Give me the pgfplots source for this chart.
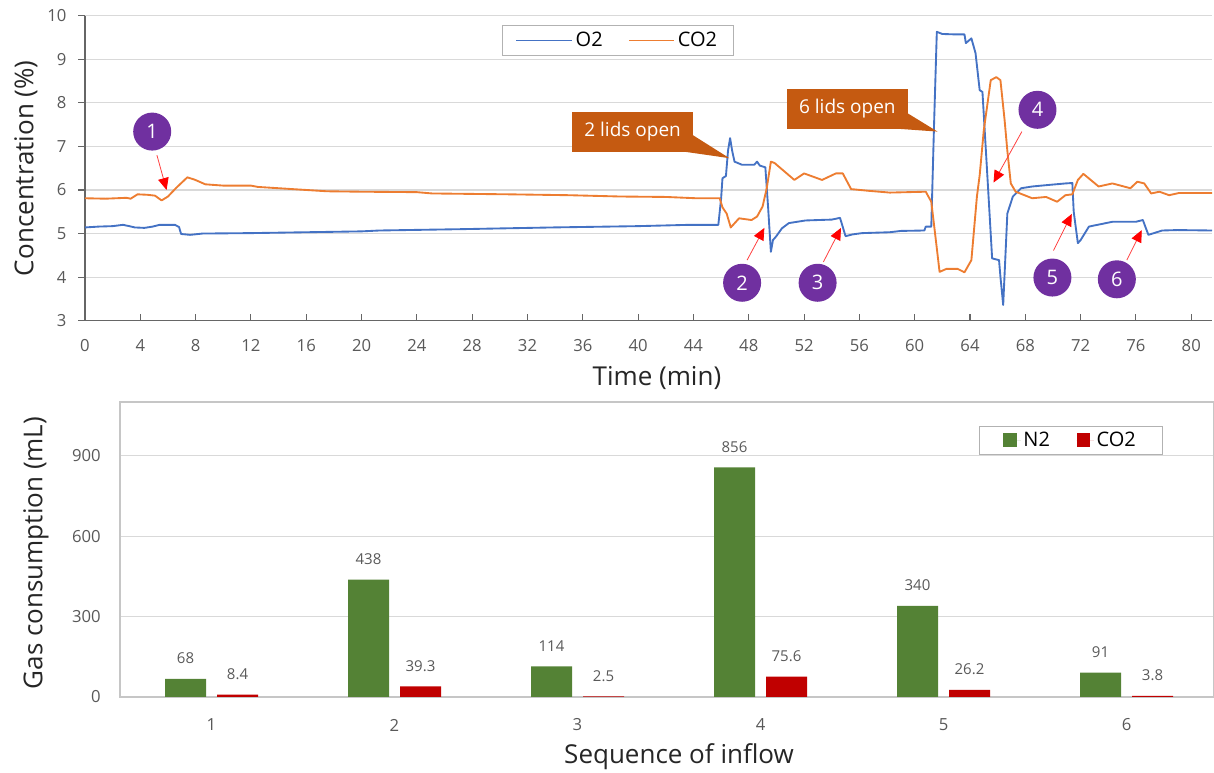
\documentclass[border=0pt]{standalone}
\usepackage{fontspec}
\setmainfont{Open Sans}
\usepackage{pgfplots}
\pgfplotsset{compat=1.18}
\usetikzlibrary{arrows.meta}
\definecolor{oxy}{HTML}{4472C4}
\definecolor{cdo}{HTML}{ED7D31}
\definecolor{ngreen}{HTML}{548235}
\definecolor{cred}{HTML}{C00000}
\definecolor{callout}{HTML}{C55A11}
\definecolor{purp}{HTML}{7030A0}
\definecolor{tickc}{HTML}{595959}
\definecolor{gridc}{HTML}{D9D9D9}
\begin{document}
\begin{tikzpicture}[
  circ/.style={circle, fill=purp, text=white, minimum size=28.5pt, inner sep=0pt, font=\fontsize{15}{18}\selectfont},
  rarrow/.style={draw=red!75, line width=0.6pt, -{Triangle[length=9pt,width=8pt,fill=red,color=red]}},
  ctext/.style={text=white, font=\fontsize{14.25}{17}\selectfont}
]
\useasboundingbox (0,0) rectangle (910.5pt,579.75pt);
% ---------------- top chart ----------------
\begin{axis}[
  at={(63.75pt,339.225pt)}, anchor=south west,
  scale only axis, width=845.25pt, height=228.75pt,
  xmin=0, xmax=81.5, ymin=3, ymax=10,
  xtick={0,4,...,80}, ytick={3,...,10},
  axis x line*=bottom, axis y line*=left,
  axis line style={draw=black!60, line width=0.9pt},
  ymajorgrids, grid style={draw=gridc, line width=0.8pt},
  tick align=inside, major tick length=5.25pt,
  tick style={draw=black!60, line width=0.8pt},
  ytick style={xshift=-5.25pt},
  /pgf/number format/assume math mode=true,
  tick label style={font=\fontsize{12.5}{14}\selectfont, text=tickc, inner sep=0pt},
  xticklabel style={anchor=center, yshift=-18.75pt},
  yticklabel style={anchor=east, xshift=-13.7pt},
  xlabel={Time (min)}, ylabel={Concentration (\%)},
  label style={font=\fontsize{19.5}{23}\selectfont, text=black!85},
  xlabel style={at={(axis description cs:0.5075,-0.1895)}, anchor=center},
  ylabel style={at={(axis description cs:-0.0524,0.5)}, anchor=center},
  legend style={at={(0.4725,0.9187)}, anchor=center, draw=gray!60, fill=white,
    font=\fontsize{15}{18}\selectfont, legend columns=2,
    inner xsep=10pt, inner ysep=3pt},
  legend cell align=left,
  clip=false,
]
\addplot[oxy, line width=1.4pt, line join=round,
  legend image code/.code={\draw[oxy,line width=1.3pt] (0pt,0pt) -- (40pt,0pt); \path (0pt,0pt) -- (42pt,0pt);}]
coordinates {
(0,5.14) (1,5.16) (2,5.17) (2.75,5.20) (3.2,5.17) (3.6,5.14) (4.3,5.13) (4.9,5.16) (5.4,5.20) (6.5,5.20) (6.8,5.15) (6.95,4.99) (7.6,4.97) (8.5,5.00) (12,5.01) (16,5.03) (20,5.05) (21.3,5.07) (27.1,5.10) (33.8,5.14) (40,5.17) (43.7,5.20) (45.8,5.20) (46.0,5.80) (46.1,6.27) (46.35,6.32) (46.5,6.9) (46.65,7.19) (46.8,6.9) (46.97,6.65) (47.5,6.58) (48.4,6.58) (48.6,6.65) (48.8,6.56) (49.2,6.52) (49.4,5.6) (49.6,4.58) (49.75,4.85) (49.97,4.93) (50.4,5.12) (50.9,5.24) (52.1,5.30) (53,5.31) (54,5.32) (54.6,5.36) (55.0,4.94) (55.5,4.98) (56.2,5.01) (58.2,5.03) (59,5.06) (60.7,5.07) (60.8,5.16) (61.2,5.16) (61.4,7.5) (61.6,9.63) (62,9.58) (63,9.57) (63.6,9.57) (63.7,9.37) (64.1,9.48) (64.4,9.14) (64.7,8.29) (64.9,8.25) (65.3,6.08) (65.6,4.43) (66.1,4.39) (66.2,4.01) (66.4,3.36) (66.7,5.46) (67.1,5.85) (67.7,6.04) (68.5,6.08) (69.5,6.11) (70.9,6.15) (71.4,6.16) (71.5,5.5) (71.8,4.78) (72.0,4.85) (72.6,5.16) (74.3,5.27) (76.0,5.27) (76.5,5.31) (76.9,4.97) (77.9,5.07) (79,5.08) (81.5,5.07)
};
\addlegendentry{O2\rule{17pt}{0pt}}
\addplot[cdo, line width=1.4pt, line join=round,
  legend image code/.code={\draw[cdo,line width=1.3pt] (0pt,0pt) -- (32pt,0pt); \path (0pt,0pt) -- (34pt,0pt);}]
coordinates {
(0,5.81) (1.5,5.80) (3.0,5.82) (3.3,5.80) (3.8,5.90) (4.5,5.89) (5.06,5.87) (5.54,5.76) (6.0,5.85) (6.6,6.05) (7.4,6.29) (7.9,6.24) (8.2,6.20) (8.7,6.13) (10,6.10) (12,6.10) (12.5,6.07) (16,6.00) (17.5,5.97) (20,5.96) (24,5.95) (25.1,5.92) (30.7,5.90) (35,5.88) (38.7,5.85) (42,5.84) (44.2,5.81) (45.9,5.81) (46.1,5.6) (46.4,5.46) (46.7,5.14) (47.3,5.35) (48.2,5.31) (48.6,5.39) (49.0,5.62) (49.3,6.04) (49.6,6.65) (49.86,6.62) (50.6,6.42) (51.3,6.23) (52.0,6.38) (53.3,6.23) (54.3,6.38) (54.8,6.38) (55.4,6.02) (56.7,5.98) (58.2,5.94) (60.8,5.96) (61.2,5.73) (61.5,4.93) (61.8,4.12) (62.3,4.19) (63.1,4.19) (63.6,4.11) (64.1,4.39) (64.5,5.85) (64.7,6.34) (65.0,7.38) (65.5,8.52) (65.9,8.59) (66.2,8.52) (66.5,7.61) (66.7,6.9) (66.95,6.15) (67.3,5.96) (68.5,5.81) (69.5,5.84) (70.3,5.73) (70.9,5.88) (71.4,5.90) (71.8,6.23) (72.2,6.37) (73.3,6.08) (74.3,6.15) (75.6,6.04) (76.1,6.19) (76.6,6.15) (77.1,5.92) (77.7,5.96) (78.4,5.88) (79.1,5.93) (81.5,5.93)
};
\addlegendentry{CO2}
% callouts
\fill[callout] (axis cs:35.24,6.88) rectangle (axis cs:43.95,7.80);
\fill[callout] (axis cs:43.95,7.26) -- (axis cs:46.6,6.73) -- (axis cs:43.3,6.88) -- cycle;
\node[ctext] at (axis cs:39.6,7.34) {2 lids open};
\fill[callout] (axis cs:50.77,7.40) rectangle (axis cs:59.49,8.32);
\fill[callout] (axis cs:59.49,7.76) -- (axis cs:61.65,7.34) -- (axis cs:59.0,7.40) -- cycle;
\node[ctext] at (axis cs:55.13,7.86) {6 lids open};
% numbered markers
\draw[rarrow] (axis cs:5.2,6.80) -- (axis cs:5.9,6.0);
\node[circ] at (axis cs:4.86,7.34) {1};
\draw[rarrow] (axis cs:47.88,4.39) -- (axis cs:49.13,5.13);
\node[circ] at (axis cs:47.52,3.87) {2};
\draw[rarrow] (axis cs:53.4,4.35) -- (axis cs:54.67,5.13);
\node[circ] at (axis cs:52.98,3.87) {3};
\draw[rarrow] (axis cs:67.75,7.34) -- (axis cs:65.70,6.17);
\node[circ] at (axis cs:68.88,7.84) {4};
\draw[rarrow] (axis cs:70.04,4.61) -- (axis cs:71.36,5.45);
\node[circ] at (axis cs:69.96,3.99) {5};
\draw[rarrow] (axis cs:75.34,4.39) -- (axis cs:76.42,5.08);
\node[circ] at (axis cs:74.62,3.95) {6};
\end{axis}
% ---------------- bottom chart ----------------
\begin{axis}[
  at={(90pt,57pt)}, anchor=south west,
  scale only axis, width=820.5pt, height=221.25pt,
  xmin=0.5, xmax=6.478, ymin=0, ymax=1100,
  xtick={1,...,6}, ytick={0,300,600,900},
  axis line style={draw=gray!45, line width=0.8pt},
  ymajorgrids, grid style={draw=gridc, line width=0.8pt},
  major tick length=0pt,
  /pgf/number format/assume math mode=true,
  tick label style={font=\fontsize{12.5}{14}\selectfont, text=tickc, inner sep=0pt},
  xticklabel style={anchor=center, yshift=-21pt},
  yticklabel style={anchor=east, xshift=-14.25pt},
  xlabel={Sequence of inflow}, ylabel={Gas consumption (mL)},
  label style={font=\fontsize{19.5}{23}\selectfont, text=black!85},
  xlabel style={at={(axis description cs:0.511,-0.2034)}, anchor=center},
  ylabel style={at={(axis description cs:-0.0768,0.488)}, anchor=center},
  ybar, bar width=30.75pt,
  nodes near coords,
  every node near coord/.append style={font=\fontsize{11.25}{13}\selectfont, text=tickc, anchor=south, inner sep=0pt, yshift=11pt},
  legend style={at={(0.8693,0.871)}, anchor=center, draw=gray!60, fill=white,
    font=\fontsize{15}{18}\selectfont, legend columns=2,
    inner xsep=18pt, inner ysep=2.5pt},
  legend cell align=left,
  clip=false,
]
\addplot[fill=ngreen, draw=none, bar shift=-19.5pt,
  legend image code/.code={\fill[ngreen] (0pt,-5pt) rectangle (10pt,5pt); \path (0pt,0pt) -- (13pt,0pt);}]
coordinates {(1,68) (2,438) (3,114) (4,856) (5,340) (6,91)};
\addlegendentry{N2\rule{18pt}{0pt}}
\addplot[fill=cred, draw=none, bar shift=19.5pt,
  legend image code/.code={\fill[cred] (0pt,-5pt) rectangle (10pt,5pt); \path (0pt,0pt) -- (13pt,0pt);}]
coordinates {(1,8.4) (2,39.3) (3,2.5) (4,75.6) (5,26.2) (6,3.8)};
\addlegendentry{CO2}
\end{axis}
\end{tikzpicture}
\end{document}
